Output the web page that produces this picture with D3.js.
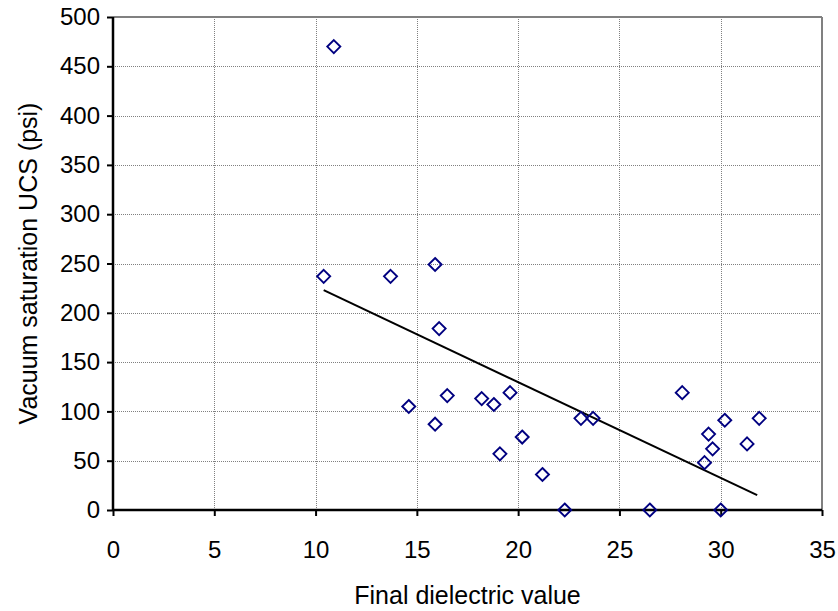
<!DOCTYPE html>
<html>
<head>
<meta charset="utf-8">
<script src="https://cdn.jsdelivr.net/npm/d3@7"></script>
<style>
  html, body { margin: 0; padding: 0; background: #fff; }
  svg { display: block; }
  text { font-family: "Liberation Sans", Arial, sans-serif; fill: #000; }
</style>
</head>
<body>
<svg id="chart" width="838" height="611"></svg>
<script>
// Data
const dielectric = [10.9, 10.4, 13.7, 15.9, 16.1, 14.6, 16.5, 15.9, 18.2, 18.8, 19.6, 19.1, 20.2, 21.2, 22.3, 23.1, 23.7, 26.5, 28.1, 30.2, 31.9, 29.4, 29.6, 31.3, 29.2, 30.0];
const ucs        = [470, 237, 237, 249, 184, 105, 116, 87, 113, 107, 119, 57, 74, 36, 0, 93, 93, 0, 119, 91, 93, 77, 62, 67, 48, 0];
const trendX = [10.4, 31.8];
const trendY = [223, 15];
const xTicks = [0, 5, 10, 15, 20, 25, 30, 35];
const yTicks = [0, 50, 100, 150, 200, 250, 300, 350, 400, 450, 500];
const xTitle = "Final dielectric value";
const yTitle = "Vacuum saturation UCS (psi)";

const svg = d3.select("#chart");
const pLeft = 113, pRight = 822, pTop = 17, pBottom = 510;
const fs = 24, fsTitle = 25;

const x = d3.scaleLinear().domain([0, 35]).range([pLeft, pRight]);
const y = d3.scaleLinear().domain([0, 500]).range([pBottom, pTop]);

// gridlines
const grid = svg.append("g");
grid.selectAll(".gx").data(xTicks.filter(d => d > 0 && d < 35)).enter().append("line")
  .attr("x1", d => Math.round(x(d)) + 0.5).attr("x2", d => Math.round(x(d)) + 0.5)
  .attr("y1", pTop).attr("y2", pBottom)
  .attr("stroke", "#808080").attr("stroke-width", 1).attr("stroke-dasharray", "1,1");
grid.selectAll(".gy").data(yTicks.filter(d => d > 0 && d < 500)).enter().append("line")
  .attr("x1", pLeft).attr("x2", pRight)
  .attr("y1", d => Math.round(y(d)) + 0.5).attr("y2", d => Math.round(y(d)) + 0.5)
  .attr("stroke", "#808080").attr("stroke-width", 1).attr("stroke-dasharray", "1,1");

// top and right borders
svg.append("line").attr("x1", pLeft).attr("x2", pRight).attr("y1", pTop).attr("y2", pTop)
  .attr("stroke", "#808080").attr("stroke-width", 2);
svg.append("line").attr("x1", pRight).attr("x2", pRight).attr("y1", pTop).attr("y2", pBottom)
  .attr("stroke", "#808080").attr("stroke-width", 2);

// axes
const xAxis = d3.axisBottom(x).tickValues(xTicks).tickSize(6).tickPadding(25).tickFormat(d3.format("d"));
const yAxis = d3.axisLeft(y).tickValues(yTicks).tickSize(6).tickPadding(7).tickFormat(d3.format("d"));

const gx = svg.append("g").attr("transform", `translate(0,${pBottom})`).call(xAxis);
const gy = svg.append("g").attr("transform", `translate(${pLeft},0)`).call(yAxis);
[gx, gy].forEach(g => {
  g.select(".domain").attr("stroke", "#000").attr("stroke-width", 2.5);
  g.selectAll(".tick line").attr("stroke", "#000").attr("stroke-width", 2);
  g.selectAll(".tick text").attr("font-size", fs).attr("font-family", "'Liberation Sans', Arial, sans-serif").attr("fill", "#000");
});
gx.select(".domain").attr("d", `M${pLeft},0H${pRight}`);
gy.select(".domain").attr("d", `M0,${pTop}V${pBottom}`);

// trend line
svg.append("line")
  .attr("x1", x(trendX[0])).attr("y1", y(trendY[0]))
  .attr("x2", x(trendX[1])).attr("y2", y(trendY[1]))
  .attr("stroke", "#000").attr("stroke-width", 2);

// points (diamonds)
const pts = dielectric.map((d, i) => ({ x: d, y: ucs[i] }));
const r = 6.5;
svg.append("g").selectAll("path").data(pts).enter().append("path")
  .attr("d", d => {
    const cx = x(d.x), cy = y(d.y);
    return `M${cx},${cy - r}L${cx + r},${cy}L${cx},${cy + r}L${cx - r},${cy}Z`;
  })
  .attr("fill", "none").attr("stroke", "#000080").attr("stroke-width", 1.9);

// titles
svg.append("text").attr("x", (pLeft + pRight) / 2).attr("y", 604)
  .attr("text-anchor", "middle").attr("font-size", fsTitle).text(xTitle);
svg.append("text").attr("transform", `translate(37,${(pTop + pBottom) / 2}) rotate(-90)`)
  .attr("text-anchor", "middle").attr("font-size", fsTitle).text(yTitle);
</script>
</body>
</html>
